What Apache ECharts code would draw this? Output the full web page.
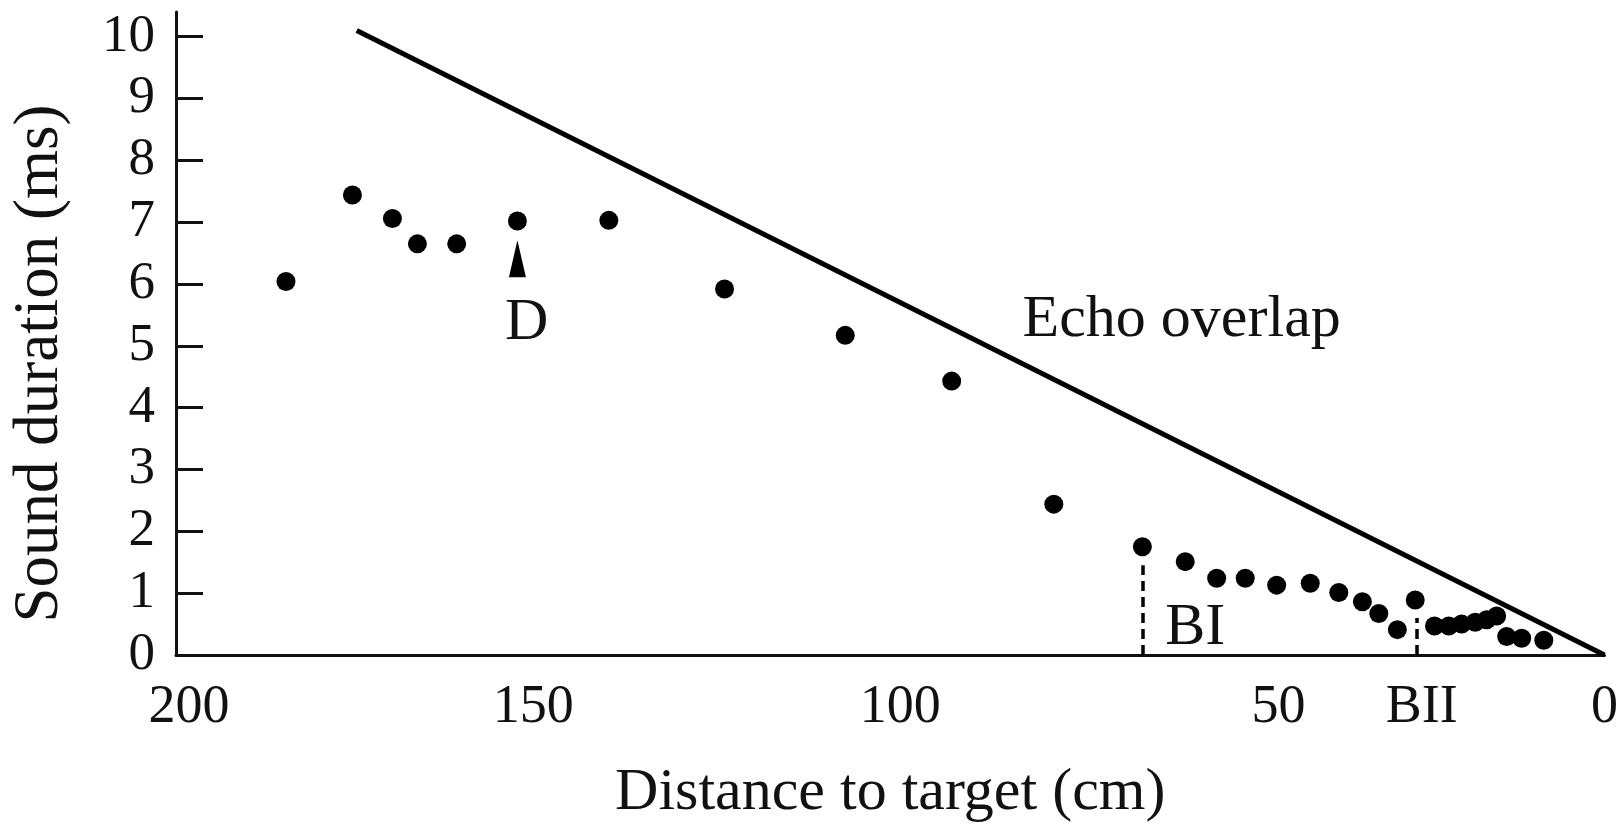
<!DOCTYPE html>
<html lang="en">
<head>
    <meta charset="UTF-8">
    <title>Sound duration vs distance</title>
    <style>
        html, body { margin: 0; padding: 0; background: #fff; }
        #chart { width: 1621px; height: 828px; }
    </style>
</head>
<body>
<div id="chart"></div>
<script src="https://cdn.jsdelivr.net/npm/echarts@6/dist/echarts.min.js"></script>
<script>
    // measured points (distance in cm, duration in ms)
    var distance = [184.6, 175.3, 169.7, 166.2, 160.7, 152.2, 139.4, 123.2, 106.3, 91.4, 77.1,
        64.7, 58.7, 54.3, 50.3, 45.9, 41.2, 37.2, 33.9, 31.6, 29.0, 26.5,
        23.8, 21.8, 20.0, 18.1, 16.5, 15.1, 13.7, 11.6, 8.5];
    var duration = [6.04, 7.44, 7.06, 6.65, 6.65, 7.02, 7.03, 5.92, 5.17, 4.43, 2.44,
        1.75, 1.51, 1.24, 1.24, 1.13, 1.16, 1.01, 0.86, 0.67, 0.41, 0.89,
        0.47, 0.47, 0.50, 0.53, 0.57, 0.63, 0.30, 0.27, 0.24];

    // echo overlap limit line
    var echoDist = [174.7, 0];
    var echoDur = [10.1, 0];

    // phase markers
    var bIDist = 64.7, bIDur = 1.45;
    var bIIDist = 26.3, bIIDur = 0.6;

    var xLabelVals = [200, 150, 100, 50, bIIDist, 0];
    var yTickVals = [0, 1, 2, 3, 4, 5, 6, 7, 8, 9, 10];

    // text annotations [distance, duration, text]
    var notes = [
        [150.9, 5.37, 'D'],
        [57.3, 0.44, 'BI'],
        [59.2, 5.42, 'Echo overlap']
    ];
    var arrowAt = [152.2, 6.41];

    var font = 'Liberation Serif';
    var ink = '#111';

    var points = [];
    for (var i = 0; i < distance.length; i++) points.push([distance[i], duration[i]]);
    var echo = [];
    for (var j = 0; j < echoDist.length; j++) echo.push([echoDist[j], echoDur[j]]);

    // the printed x labels sit a little off their values; nudge them (px, rightwards)
    var labelNudge = {200: 13, 150: 0, 100: 10, 50: 31, 0: 0};
    var rich = {};
    for (var k in labelNudge) {
        rich['n' + k] = {fontFamily: font, fontSize: 54, color: ink, padding: [0, 0, 0, labelNudge[k] * 2]};
    }
    rich.bii = {fontFamily: font, fontSize: 54, color: ink, padding: [0, 0, 0, 10]};

    var chart = echarts.init(document.getElementById('chart'), null, {renderer: 'canvas'});
    var option = {
        animation: false,
        backgroundColor: '#fff',
        grid: {left: 176, right: 15, top: 12, bottom: 173, containLabel: false},
        xAxis: {
            type: 'value', min: 0, max: 200, inverse: true,
            name: 'Distance to target (cm)', nameLocation: 'middle', nameGap: 108,
            nameTextStyle: {fontFamily: font, fontSize: 60, color: ink},
            axisLine: {show: true, lineStyle: {color: ink, width: 3}},
            axisTick: {show: false},
            splitLine: {show: false},
            axisLabel: {
                customValues: xLabelVals, margin: 26,
                fontFamily: font, fontSize: 54, color: ink, rich: rich,
                formatter: function (v) {
                    if (v === bIIDist) return '{bii|BII}';
                    return '{n' + v + '|' + v + '}';
                }
            }
        },
        yAxis: {
            type: 'value', min: 0, max: 10.4,
            name: 'Sound duration (ms)', nameLocation: 'middle', nameGap: 104, nameRotate: 90,
            nameTextStyle: {fontFamily: font, fontSize: 63, color: ink, padding: [0, 60, 0, 0]},
            axisLine: {show: true, onZero: false, lineStyle: {color: ink, width: 3}},
            axisTick: {show: true, inside: true, length: 27, customValues: yTickVals, lineStyle: {color: ink, width: 3}},
            splitLine: {show: false},
            axisLabel: {customValues: yTickVals, margin: 21, fontFamily: font, fontSize: 53, color: ink}
        },
        series: [
            {
                name: 'Echo overlap', type: 'line', data: echo, symbol: 'none', clip: false,
                lineStyle: {color: '#000', width: 5}, silent: true
            },
            {
                name: 'Sound duration', type: 'scatter', data: points, symbolSize: 19,
                itemStyle: {color: '#000', opacity: 1},
                markLine: {
                    silent: true, symbol: 'none', label: {show: false},
                    lineStyle: {color: '#000', width: 3.5, type: [10, 6], opacity: 1},
                    data: [
                        [{coord: [bIDist, 0]}, {coord: [bIDist, bIDur]}],
                        [{coord: [bIIDist, 0]}, {coord: [bIIDist, bIIDur]}]
                    ]
                }
            },
            {
                name: 'arrow', type: 'scatter', data: [arrowAt], symbol: 'triangle',
                symbolSize: [17, 37], itemStyle: {color: '#000', opacity: 1}, silent: true
            },
            {
                name: 'notes', type: 'scatter', data: notes, symbolSize: 0, silent: true,
                itemStyle: {opacity: 1},
                label: {
                    show: true, position: 'inside', fontFamily: font, fontSize: 60, color: ink, opacity: 1,
                    formatter: function (p) { return p.data[2]; }
                }
            }
        ]
    };
    chart.setOption(option);
</script>
</body>
</html>
